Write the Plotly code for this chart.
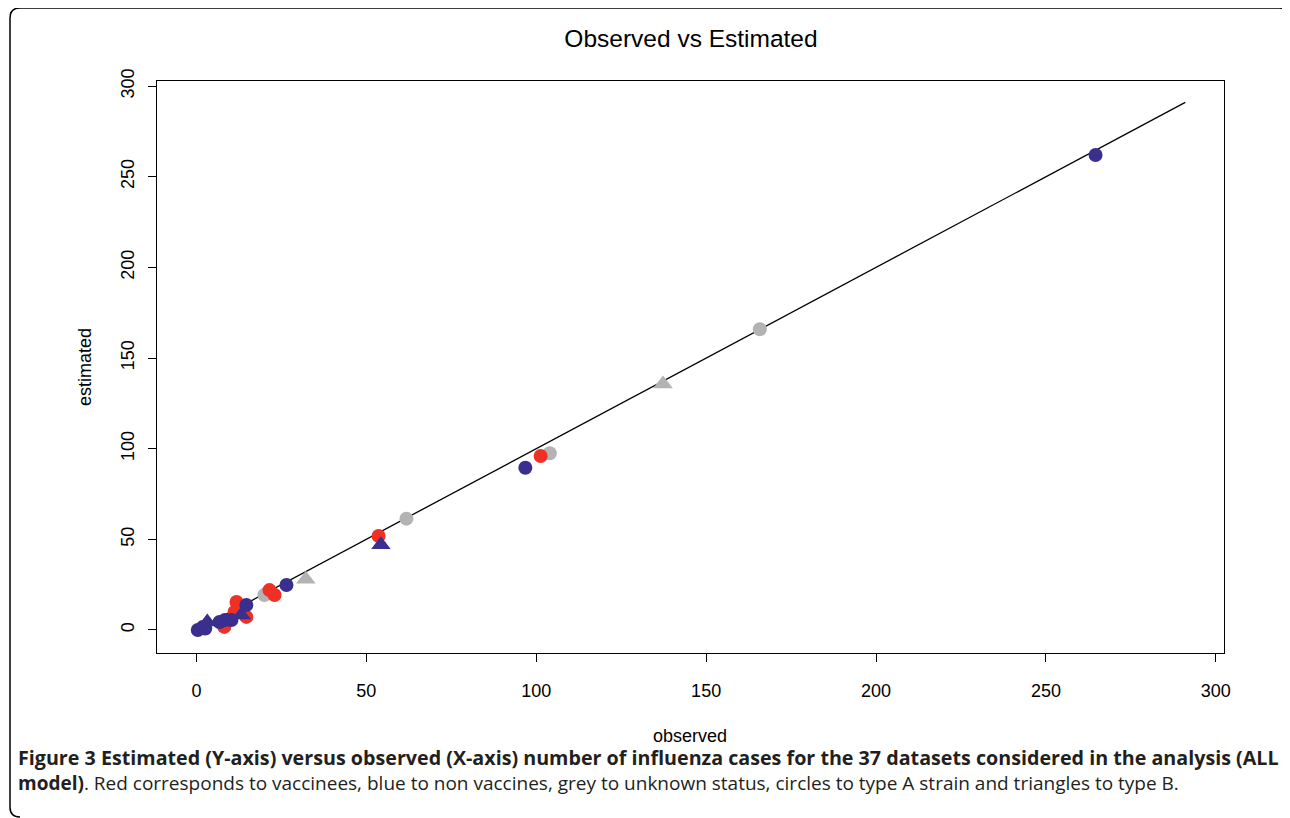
import plotly.graph_objects as go

# ---------------- data ----------------
red_circ_obs = [101.3, 53.6, 21.5, 23.0, 11.8, 11.2, 14.7, 8.2, 13.0]
red_circ_est = [96.0, 51.8, 22.0, 19.3, 15.4, 9.9, 7.2, 1.7, 12.5]

blue_circ_obs = [264.6, 96.8, 26.5, 14.7, 10.3, 6.8, 8.4, 0.4, 1.9, 2.6]
blue_circ_est = [262.0, 89.5, 24.8, 13.8, 5.5, 4.4, 5.5, 0.0, 1.7, 0.8]

blue_tri_obs = [54.3, 3.2, 13.2]
blue_tri_est = [47.0, 4.4, 8.3]

grey_circ_obs = [165.8, 104.0, 61.8, 20.0]
grey_circ_est = [165.9, 97.5, 61.4, 19.3]

grey_tri_obs = [137.3, 32.2]
grey_tri_est = [135.7, 28.0]

line_x = [0, 291]
line_y = [0, 291]

x_ticks = [0, 50, 100, 150, 200, 250, 300]
y_ticks = [0, 50, 100, 150, 200, 250, 300]

RED = "#EE3124"
BLUE = "#3A2E8E"
GREY = "#B3B3B3"

# ---------------- layout geometry ----------------
# the page body adds an 8px offset, so the figure is drawn 8px smaller
OFF = 8
W, H = 1290 - OFF, 818 - OFF
ML, MR, MT = 157 - OFF, 66, 81 - OFF
PW = W - ML - MR
PH = 572
MB = H - MT - PH


def px(x):  # reference pixel x -> paper
    return (x - OFF - ML) / PW


def py(y):  # reference pixel y -> paper
    return (H - MB - (y - OFF)) / PH


fig = go.Figure()

fig.add_trace(go.Scatter(x=line_x, y=line_y, mode="lines",
                         line=dict(color="black", width=1.3), hoverinfo="skip"))

groups = [
    (grey_circ_obs, grey_circ_est, GREY, "circle", 14),
    (grey_tri_obs, grey_tri_est, GREY, "triangle-up", 17),
    (red_circ_obs, red_circ_est, RED, "circle", 14),
    (blue_circ_obs, blue_circ_est, BLUE, "circle", 14),
    (blue_tri_obs, blue_tri_est, BLUE, "triangle-up", 17),
]
for xs, ys, col, sym, sz in groups:
    fig.add_trace(go.Scatter(x=xs, y=ys, mode="markers",
                             marker=dict(color=col, symbol=sym, size=sz,
                                         line=dict(width=0))))

axis_font = dict(family="Liberation Sans, Arial, sans-serif", size=18, color="black")

fig.update_layout(
    width=W, height=H,
    margin=dict(l=ML, r=MR, t=MT, b=MB),
    paper_bgcolor="white", plot_bgcolor="white",
    showlegend=False,
    font=axis_font,
    title=dict(text="Observed vs Estimated", x=px(691), xref="paper",
               xanchor="center", y=1 - (38 - OFF) / H, yanchor="middle",
               font=dict(family="Liberation Sans, Arial, sans-serif", size=24.5, color="black")),
    xaxis=dict(range=[-11.6, 302.4], tickvals=x_ticks, ticktext=[str(v) for v in x_ticks],
               showgrid=False, zeroline=False, showline=True, mirror=True,
               linecolor="black", linewidth=1, ticks="outside", ticklen=8,
               tickcolor="black", tickwidth=1, ticklabelstandoff=13,
               tickfont=axis_font),
    yaxis=dict(range=[-12.7, 302.8], tickvals=y_ticks, ticktext=[str(v) for v in y_ticks],
               showgrid=False, zeroline=False, showline=True, mirror=True,
               linecolor="black", linewidth=1, ticks="outside", ticklen=8,
               tickcolor="black", tickwidth=1, tickangle=-90, ticklabelstandoff=7,
               tickfont=axis_font),
)

# axis titles
fig.add_annotation(text="observed", x=px(690), y=py(736), xref="paper", yref="paper",
                   showarrow=False, xanchor="center", yanchor="middle", font=axis_font)
fig.add_annotation(text="estimated", x=px(85), y=py(367), xref="paper", yref="paper",
                   showarrow=False, xanchor="center", yanchor="middle", textangle=-90,
                   font=axis_font)

# caption (two lines in one text block)
caption = (
    "<span style='font-size:19.7px'><b>Figure 3 Estimated (Y-axis) versus observed (X-axis) "
    "number of influenza cases for the 37 datasets considered in the analysis (ALL</b></span><br>"
    "<b>model)</b>. Red corresponds to vaccinees, blue to non vaccines, grey to unknown status, "
    "circles to type A strain and triangles to type B."
)
fig.add_annotation(
    text=caption, align="left",
    x=px(16), y=py(770), xref="paper", yref="paper", showarrow=False,
    xanchor="left", yanchor="middle",
    font=dict(family="Open Sans, Noto Sans, sans-serif", size=19, color="#231F20"))

# rounded outer frame
L, T, R, B, r = 10, 8, 1289, 817, 10
path = (f"M {px(L + r)},{py(B)} Q {px(L)},{py(B)} {px(L)},{py(B - r)} "
        f"L {px(L)},{py(T + r)} Q {px(L)},{py(T)} {px(L + r)},{py(T)} "
        f"L {px(R - r)},{py(T)} Q {px(R)},{py(T)} {px(R)},{py(T + r)} "
        f"L {px(R)},{py(B)}")
fig.add_shape(type="path", path=path, xref="paper", yref="paper",
              line=dict(color="black", width=1.5))

fig.write_html("out.html")
